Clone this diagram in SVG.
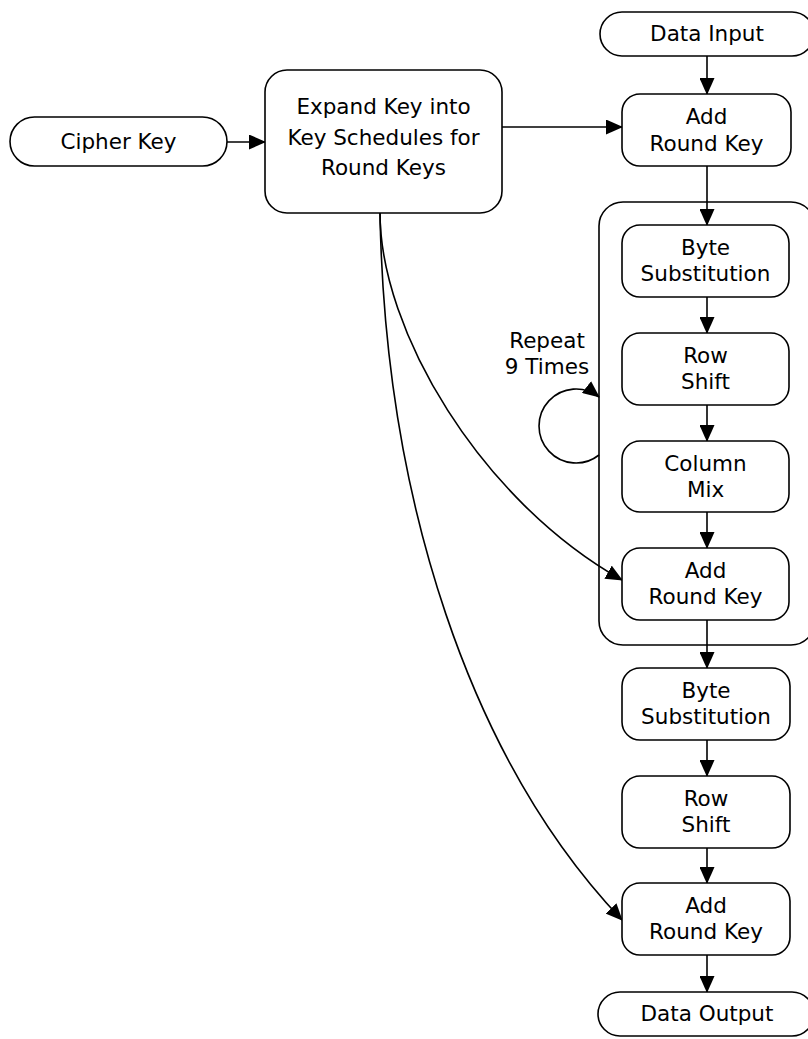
<svg xmlns="http://www.w3.org/2000/svg" width="808" height="1039" viewBox="0 0 808 1039">
  <style>
    .box { fill: #fff; stroke: #000; stroke-width: 1.6; }
    .frame { fill: none; stroke: #000; stroke-width: 1.6; }
    .lbl { font-family: "DejaVu Sans", "Open Sans", sans-serif; font-size: 21.5px; fill: #000; text-anchor: middle; }
    .edge { fill: none; stroke: #000; stroke-width: 1.6; marker-end: url(#arrow); }
  </style>
  <defs>
    <marker id="arrow" markerUnits="userSpaceOnUse" markerWidth="17" markerHeight="15" refX="16" refY="7.5" orient="auto">
      <path d="M0,0 L17,7.5 L0,15 Z" fill="#000"/>
    </marker>
  </defs>
  <rect width="808" height="1039" fill="#fff"/>

  <!-- repeated round frame -->
  <g id="round-loop">
    <rect class="frame" x="599" y="202" width="216" height="443" rx="24"/>
    <text class="lbl" x="547" y="348">Repeat</text>
    <text class="lbl" x="547" y="374">9 Times</text>
  </g>

  <g id="connectors">
    <path class="edge" d="M227,142 L265,142"/>
    <path class="edge" d="M502,127 L622,127"/>
    <path class="edge" d="M707,56 L707,94"/>
    <path class="edge" d="M707,166 L707,225"/>
    <path class="edge" d="M707,297 L707,333"/>
    <path class="edge" d="M707,405 L707,441"/>
    <path class="edge" d="M707,512 L707,548"/>
    <path class="edge" d="M707,620 L707,668"/>
    <path class="edge" d="M707,740 L707,776"/>
    <path class="edge" d="M707,848 L707,883"/>
    <path class="edge" d="M707,955 L707,992"/>
    <path class="edge" d="M380,213 C380,330 480,500 622,580"/>
    <path class="edge" d="M380,213 C385,500 470,760 622,920"/>
    <path class="edge" d="M599,455 A37,37 0 1 1 599,397"/>
  </g>

  <g id="cipher-key">
    <rect class="box" x="10" y="117" width="217" height="49" rx="24.5"/>
    <text class="lbl" x="118.5" y="149">Cipher Key</text>
  </g>

  <g id="expand-key">
    <rect class="box" x="265" y="70" width="237" height="143" rx="22"/>
    <text class="lbl" x="383.5" y="114">Expand Key into</text>
    <text class="lbl" x="383.5" y="145">Key Schedules for</text>
    <text class="lbl" x="383.5" y="175">Round Keys</text>
  </g>

  <g id="data-input">
    <rect class="box" x="600" y="12" width="214" height="44" rx="22"/>
    <text class="lbl" x="707" y="41">Data Input</text>
  </g>

  <g id="add-round-key-0">
    <rect class="box" x="622" y="94" width="169" height="72" rx="18"/>
    <text class="lbl" x="706.5" y="124">Add</text>
    <text class="lbl" x="706.5" y="151">Round Key</text>
  </g>

  <g id="byte-sub-1">
    <rect class="box" x="622" y="225" width="167" height="72" rx="18"/>
    <text class="lbl" x="705.5" y="255">Byte</text>
    <text class="lbl" x="705.5" y="281">Substitution</text>
  </g>

  <g id="row-shift-1">
    <rect class="box" x="622" y="333" width="167" height="72" rx="18"/>
    <text class="lbl" x="705.5" y="363">Row</text>
    <text class="lbl" x="705.5" y="389">Shift</text>
  </g>

  <g id="column-mix">
    <rect class="box" x="622" y="441" width="167" height="71" rx="18"/>
    <text class="lbl" x="705.5" y="471">Column</text>
    <text class="lbl" x="705.5" y="497">Mix</text>
  </g>

  <g id="add-round-key-1">
    <rect class="box" x="622" y="548" width="167" height="72" rx="18"/>
    <text class="lbl" x="705.5" y="578">Add</text>
    <text class="lbl" x="705.5" y="604">Round Key</text>
  </g>

  <g id="byte-sub-2">
    <rect class="box" x="622" y="668" width="168" height="72" rx="18"/>
    <text class="lbl" x="706" y="698">Byte</text>
    <text class="lbl" x="706" y="724">Substitution</text>
  </g>

  <g id="row-shift-2">
    <rect class="box" x="622" y="776" width="168" height="72" rx="18"/>
    <text class="lbl" x="706" y="806">Row</text>
    <text class="lbl" x="706" y="832">Shift</text>
  </g>

  <g id="add-round-key-2">
    <rect class="box" x="622" y="883" width="168" height="72" rx="18"/>
    <text class="lbl" x="706" y="913">Add</text>
    <text class="lbl" x="706" y="939">Round Key</text>
  </g>

  <g id="data-output">
    <rect class="box" x="598" y="992" width="216" height="44" rx="22"/>
    <text class="lbl" x="707" y="1021">Data Output</text>
  </g>
</svg>
